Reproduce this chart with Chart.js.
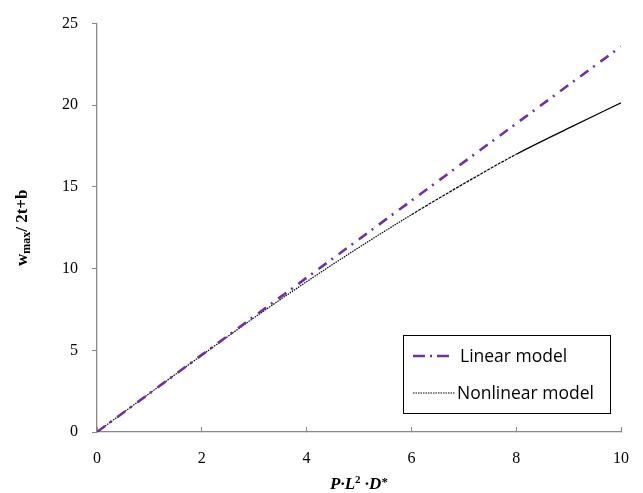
<!DOCTYPE html>
<html><head><meta charset="utf-8">
<script src="https://cdn.jsdelivr.net/npm/chart.js@4"></script>
<style>html,body{margin:0;padding:0;background:#fff}#wrap{width:643px;height:493px}</style>
</head><body><div id="wrap"><canvas id="c"></canvas></div>
<script>
const xValues = [0, 1, 2, 3, 4, 5, 6, 7, 8, 9, 10];
const linearValues = [0, 2.36, 4.72, 7.08, 9.44, 11.8, 14.16, 16.52, 18.88, 21.24, 23.6];
const nonlinearValues = [0, 2.36, 4.7, 7.0, 9.2, 11.3, 13.3, 15.2, 17.0, 18.6, 20.15];
const seriesNames = ['Linear model', 'Nonlinear model'];
const xTicks = [0, 2, 4, 6, 8, 10];
const yTicks = [0, 5, 10, 15, 20, 25];

const serif = "Liberation Serif, Times New Roman, serif";
Chart.defaults.font.family = serif;

const titlesAndLegend = {
  id: 'titlesAndLegend',
  afterDraw(chart) {
    const ctx = chart.ctx;
    const ca = chart.chartArea;
    ctx.save();
    ctx.translate(27, (ca.top + ca.bottom) / 2);
    ctx.rotate(-Math.PI / 2);
    ctx.fillStyle = '#000';
    ctx.textBaseline = 'alphabetic';
    const parts = [
      {t: 'w', f: 'bold 17px ' + serif, dy: 0},
      {t: 'max', f: 'bold 12px ' + serif, dy: 3},
      {t: '/ 2t+b', f: 'bold 17px ' + serif, dy: 0}
    ];
    let total = 0;
    parts.forEach(p => { ctx.font = p.f; total += ctx.measureText(p.t).width; });
    let x = -total / 2;
    parts.forEach(p => { ctx.font = p.f; ctx.fillText(p.t, x, p.dy); x += ctx.measureText(p.t).width; });
    ctx.restore();

    ctx.save();
    ctx.fillStyle = '#000';
    ctx.textBaseline = 'alphabetic';
    const xp = [
      {t: 'P·L', f: 'italic bold 17px ' + serif, dy: 0},
      {t: '2', f: 'bold 11px ' + serif, dy: -6},
      {t: ' ·D', f: 'italic bold 17px ' + serif, dy: 0},
      {t: '*', f: 'bold 13px ' + serif, dy: -3}
    ];
    let tw = 0;
    xp.forEach(p => { ctx.font = p.f; tw += ctx.measureText(p.t).width; });
    let xx = (ca.left + ca.right) / 2 - tw / 2;
    xp.forEach(p => { ctx.font = p.f; ctx.fillText(p.t, xx, 489 + p.dy); xx += ctx.measureText(p.t).width; });
    ctx.restore();

    ctx.save();
    const bx = 403, by = 335, bw = 207, bh = 78;
    ctx.fillStyle = '#fff';
    ctx.fillRect(bx, by, bw, bh);
    ctx.strokeStyle = '#000';
    ctx.lineWidth = 1;
    ctx.strokeRect(bx + 0.5, by + 0.5, bw, bh);
    const ds = chart.data.datasets;
    const rows = [356, 393];
    const samples = [[413, 450, [12, 5, 2, 5]], [413, 455, [1.5, 1]]];
    ds.forEach((d, i) => {
      ctx.save();
      ctx.strokeStyle = d.borderColor;
      ctx.lineWidth = d.borderWidth;
      ctx.setLineDash(samples[i][2]);
      ctx.beginPath();
      ctx.moveTo(samples[i][0], rows[i]);
      ctx.lineTo(samples[i][1], rows[i]);
      ctx.stroke();
      ctx.restore();
      ctx.fillStyle = '#000';
      ctx.font = "17.5px 'Open Sans', 'Liberation Sans', sans-serif";
      ctx.textBaseline = 'middle';
      ctx.fillText(d.label, i === 1 ? 457 : 460, rows[i] + 1);
    });
    ctx.restore();
  }
};

new Chart(document.getElementById('c'), {
  type: 'line',
  data: {
    datasets: [
      {
        label: seriesNames[0],
        data: xValues.map((x, i) => ({x: x, y: linearValues[i]})),
        borderColor: '#7030A0',
        borderWidth: 2.6,
        borderDash: [10, 6, 2, 7],
        pointRadius: 0,
        fill: false,
        tension: 0
      },
      {
        label: seriesNames[1],
        data: xValues.map((x, i) => ({x: x, y: nonlinearValues[i]})),
        borderColor: '#000',
        borderWidth: 1.2,
        borderDash: [1.5, 1],
        segment: {
          borderDash: c => c.p0.parsed.x >= 8 ? [] : (c.p0.parsed.x >= 6 ? [3, 1] : [1.5, 1])
        },
        pointRadius: 0,
        fill: false,
        cubicInterpolationMode: 'monotone'
      }
    ]
  },
  options: {
    responsive: true,
    maintainAspectRatio: false,
    animation: false,
    layout: {padding: {top: 17, right: 22, left: 0, bottom: 0}},
    plugins: {legend: {display: false}, tooltip: {enabled: false}},
    scales: {
      x: {
        type: 'linear', min: 0, max: 10,
        afterBuildTicks: s => { s.ticks = xTicks.map(v => ({value: v})); },
        border: {color: '#888', width: 1.3},
        grid: {drawOnChartArea: false, drawTicks: true, tickLength: -5, color: '#888'},
        ticks: {color: '#000', font: {family: serif, size: 16}, padding: 22, maxRotation: 0},
        afterFit: s => { s.height = 61; s.paddingRight = 0; s.paddingLeft = 0; }
      },
      y: {
        min: 0, max: 25,
        afterBuildTicks: s => { s.ticks = yTicks.map(v => ({value: v})); },
        border: {color: '#888', width: 1.3},
        grid: {drawOnChartArea: false, drawTicks: true, tickLength: 5, color: '#888'},
        ticks: {color: '#000', font: {family: serif, size: 16}, padding: 14},
        afterFit: s => { s.width = 97; }
      }
    }
  },
  plugins: [titlesAndLegend]
});
</script>
</body></html>
